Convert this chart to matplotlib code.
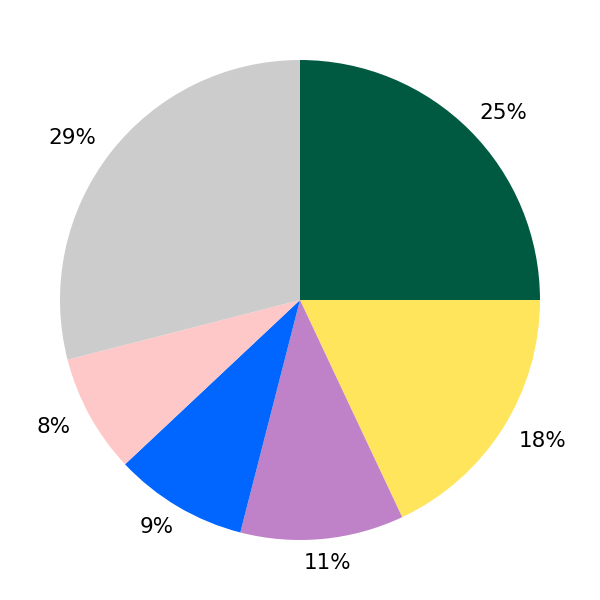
import matplotlib
matplotlib.use("Agg")
import matplotlib.pyplot as plt
import matplotlib.transforms as mtransforms
import numpy as np

labels = ["A", "B", "C", "D", "E", "F"]
values = [25, 18, 11, 9, 8, 29]
colors = ["#005A41", "#FFE55C", "#BF82C8", "#0066FF", "#FFC8C8", "#CCCCCC"]

fig = plt.figure(figsize=(6, 6), dpi=100)
ax = fig.add_axes([0, 0, 1, 1])
wedges, texts, autotexts = ax.pie(values, colors=colors, startangle=90, counterclock=False,
                                  autopct="%1.0f%%", pctdistance=1.1,
                                  textprops={"fontsize": 15.5, "color": "black"})
ax.set_aspect("equal")

fig.canvas.draw()
renderer = fig.canvas.get_renderer()
for w, t in zip(wedges, autotexts):
    ang = np.deg2rad((w.theta1 + w.theta2) / 2)
    bb = t.get_window_extent(renderer)
    dx = np.cos(ang) * bb.width / 2
    t.set_transform(ax.transData + mtransforms.ScaledTranslation(dx / fig.dpi, 0, fig.dpi_scale_trans))

fig.savefig("out.png", dpi=100)
